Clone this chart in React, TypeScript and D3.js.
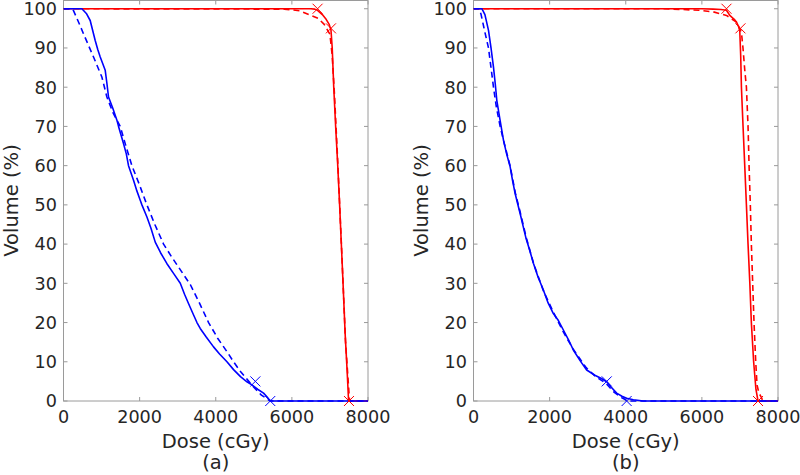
import React from "react";
import * as d3 from "d3";

// ---------- data ----------
const xTicks = [0, 2000, 4000, 6000, 8000];
const yTicks = [0, 10, 20, 30, 40, 50, 60, 70, 80, 90, 100];
const panelLabels = ["(a)", "(b)"];
const xLabel = "Dose (cGy)";
const yLabel = "Volume (%)";

// Panel (a)
const blueSolidADose = [0, 483, 600, 701, 833, 900, 965, 1096, 1140, 1183, 1300, 1403, 1446, 1580, 1650, 1708, 1840, 1930, 2016, 2060, 2192, 2300, 2410, 2550, 2718, 2900, 3068, 3180, 3287, 3400, 3506, 3592, 3750, 3942, 4100, 4294, 4468, 4650, 4820, 4950, 5100, 5256, 5350, 5432, 8000];
const blueSolidAVol = [100, 100, 98.8, 97, 91.9, 89.6, 87.7, 84.3, 81, 77.5, 74.5, 71.6, 70, 65.5, 63, 60, 56.3, 53.5, 51.2, 50, 46.9, 44, 40.5, 37.8, 35, 32.4, 30, 27.2, 24.8, 22.3, 20, 18.5, 16.3, 13.8, 12, 10, 8, 6.2, 4.9, 4.1, 3, 2.0, 1, 0, 0];
const blueDashedADose = [0, 220, 263, 400, 526, 789, 1008, 1140, 1300, 1490, 1640, 1797, 2000, 2191, 2400, 2629, 2850, 3080, 3331, 3570, 3812, 4050, 4300, 4468, 4650, 4800, 5000, 5200, 5400, 5500, 8000];
const blueDashedAVol = [100, 100, 99.5, 96.5, 93.6, 87.7, 82.6, 77.5, 73.5, 70, 65, 60, 55, 50, 45, 40, 36.6, 33.3, 29.7, 25, 20, 16, 12.5, 10, 7.5, 5.8, 3.5, 1.5, 0.2, 0, 0];
const redSolidADose = [0, 6500, 6600, 6675, 6800, 6900, 6980, 7027, 7060, 7100, 7150, 7200, 7250, 7295, 7340, 7400, 7450, 7490, 8000];
const redSolidAVol = [100, 100, 99.9, 99.6, 98.5, 97.3, 96, 94.6, 90, 80, 70, 61, 51, 41, 31, 17, 8, 0, 0];
const redDashedADose = [0, 5800, 6200, 6527, 6700, 6850, 7000, 7060, 7120, 7210, 7310, 7410, 7515, 8000];
const redDashedAVol = [100, 99.9, 99.5, 98.2, 97.5, 96, 93.5, 88, 78, 60, 38, 15, 0, 0];
const redMarkersADose = [6675, 7027, 7500];
const redMarkersAVol = [100, 95, 0];
const blueMarkersADose = [5040, 5432];
const blueMarkersAVol = [5, 0];

// Panel (b)
const blueSolidBDose = [0, 220, 300, 394, 460, 525, 570, 613, 700, 787, 870, 963, 1030, 1094, 1160, 1225, 1300, 1382, 1480, 1574, 1700, 1836, 1960, 2098, 2230, 2361, 2500, 2623, 2800, 2973, 3200, 3350, 3498, 3620, 3761, 3900, 4023, 4200, 4459, 8000];
const blueSolidBVol = [100, 100, 98.5, 94.5, 90, 85.1, 81, 76.6, 71.5, 66.5, 63, 59.7, 56, 52.9, 50.3, 47.8, 44.7, 41.4, 38.3, 35.1, 31.5, 28.3, 25, 22.3, 20.5, 18.1, 15.5, 13, 10.3, 7.9, 6.5, 5.8, 4.9, 3.5, 2, 1.2, 0.7, 0.3, 0, 0];
const blueDashedBDose = [0, 150, 200, 300, 394, 460, 525, 600, 700, 800, 960, 1100, 1230, 1390, 1580, 1840, 2100, 2360, 2620, 2960, 3200, 3480, 3700, 3900, 4050, 8000];
const blueDashedBVol = [100, 100, 98.5, 94, 90, 85, 80, 75, 70, 66, 60, 53, 48, 41.5, 35, 28, 22.6, 17.6, 13.2, 8.5, 6.3, 4.5, 2.2, 0.8, 0, 0];
const redSolidBDose = [0, 6000, 6295, 6500, 6646, 6733, 6850, 6908, 6960, 6995, 7020, 7039, 7082, 7126, 7170, 7213, 7260, 7300, 7360, 7420, 7475, 8000];
const redSolidBVol = [100, 100, 99.9, 99.8, 99.6, 98.3, 97.3, 96.6, 95.6, 94.5, 88, 80, 70, 60, 50, 40, 30, 20, 10, 3, 0, 0];
const redDashedBDose = [0, 5000, 5500, 5931, 6300, 6646, 6908, 7039, 7080, 7130, 7170, 7213, 7240, 7273, 7300, 7335, 7370, 7415, 7450, 7500, 7560, 7600, 8000];
const redDashedBVol = [100, 100, 99.8, 99.6, 99.2, 98.3, 96.6, 94, 90, 84, 80, 70, 60, 50, 40, 30, 20, 10, 4, 2, 1, 0, 0];
const redMarkersBDose = [6646, 7013, 7475];
const redMarkersBVol = [100, 95, 0];
const blueMarkersBDose = [3500, 4023];
const blueMarkersBVol = [5, 0];

// ---------- styling ----------
const BLUE = "#0000ff";
const RED = "#ff0000";
const TEXT = "#262626";
const AXIS = "#9a9a9a";
const FONT = "'DejaVu Sans', sans-serif";

type Series = { dose: number[]; vol: number[]; color: string; dashed: boolean };
type Markers = { dose: number[]; vol: number[]; color: string };

const zip = (a: number[], b: number[]) => a.map((v, i) => [v, b[i]] as [number, number]);

function Panel({ left, label, series, markers, id }: { left: number; label: string; series: Series[]; markers: Markers[]; id: string }) {
  const width = 304.5;
  const x = d3.scaleLinear().domain([0, 8000]).range([left, left + width]);
  const y = d3.scaleLinear().domain([0, 102.1]).range([401, 0.5]);
  const line = d3.line<[number, number]>().x((d) => x(d[0])).y((d) => y(d[1]));
  const tick = 4;
  const x0 = x(0), x1 = x(8000), yb = y(0), yt = y(102.1);
  return (
    <g>
      <defs>
        <clipPath id={id}>
          <rect x={x0} y={yt - 1} width={x1 - x0} height={yb - yt + 2} />
        </clipPath>
      </defs>
      <rect x={x0} y={yt} width={x1 - x0} height={yb - yt} fill="white" stroke={AXIS} strokeWidth={1} />
      {xTicks.map((t) => (
        <g key={"x" + t}>
          <line x1={x(t)} x2={x(t)} y1={yb} y2={yb - tick} stroke={AXIS} />
          <line x1={x(t)} x2={x(t)} y1={yt} y2={yt + tick} stroke={AXIS} />
          <text x={x(t)} y={423} textAnchor="middle" fontSize={17.6} fill={TEXT} fontFamily={FONT}>{d3.format("d")(t)}</text>
        </g>
      ))}
      {yTicks.map((t) => (
        <g key={"y" + t}>
          <line x1={x0} x2={x0 + tick} y1={y(t)} y2={y(t)} stroke={AXIS} />
          <line x1={x1} x2={x1 - tick} y1={y(t)} y2={y(t)} stroke={AXIS} />
          <text x={x0 - 6.5} y={y(t)} dy="0.36em" textAnchor="end" fontSize={17.6} fill={TEXT} fontFamily={FONT}>{t}</text>
        </g>
      ))}
      <g clipPath={`url(#${id})`}>
        {series.map((s, i) => (
          <path key={i} d={line(zip(s.dose, s.vol)) || ""} fill="none" stroke={s.color} strokeWidth={1.6}
            strokeDasharray={s.dashed ? "6,4" : undefined} strokeLinejoin="round" />
        ))}
      </g>
      {markers.map((m, i) =>
        m.dose.map((d, j) => {
          const cx = x(d), cy = y(m.vol[j]), r = 5;
          return (
            <path key={i + "-" + j} d={`M${cx - r},${cy - r}L${cx + r},${cy + r}M${cx - r},${cy + r}L${cx + r},${cy - r}`}
              stroke={m.color} strokeWidth={1} fill="none" />
          );
        })
      )}
      <text x={(x0 + x1) / 2} y={448} textAnchor="middle" fontSize={19.5} fill={TEXT} fontFamily={FONT}>{xLabel}</text>
      <text x={(x0 + x1) / 2} y={469} textAnchor="middle" fontSize={19.5} fill={TEXT} fontFamily={FONT}>{label}</text>
      <text transform={`translate(${left - 46},200.5) rotate(-90)`} textAnchor="middle" fontSize={19.5} fill={TEXT} fontFamily={FONT}>{yLabel}</text>
    </g>
  );
}

export default function App() {
  const seriesA: Series[] = [
    { dose: redSolidADose, vol: redSolidAVol, color: RED, dashed: false },
    { dose: redDashedADose, vol: redDashedAVol, color: RED, dashed: true },
    { dose: blueSolidADose, vol: blueSolidAVol, color: BLUE, dashed: false },
    { dose: blueDashedADose, vol: blueDashedAVol, color: BLUE, dashed: true },
  ];
  const seriesB: Series[] = [
    { dose: redSolidBDose, vol: redSolidBVol, color: RED, dashed: false },
    { dose: redDashedBDose, vol: redDashedBVol, color: RED, dashed: true },
    { dose: blueSolidBDose, vol: blueSolidBVol, color: BLUE, dashed: false },
    { dose: blueDashedBDose, vol: blueDashedBVol, color: BLUE, dashed: true },
  ];
  const markersA: Markers[] = [
    { dose: redMarkersADose, vol: redMarkersAVol, color: RED },
    { dose: blueMarkersADose, vol: blueMarkersAVol, color: BLUE },
  ];
  const markersB: Markers[] = [
    { dose: redMarkersBDose, vol: redMarkersBVol, color: RED },
    { dose: blueMarkersBDose, vol: blueMarkersBVol, color: BLUE },
  ];
  return (
    <div style={{ position: "absolute", left: 0, top: 0 }}>
      <svg width={800} height={475} style={{ display: "block", background: "white" }}>
        <Panel id="clipA" left={63.5} label={panelLabels[0]} series={seriesA} markers={markersA} />
        <Panel id="clipB" left={473.5} label={panelLabels[1]} series={seriesB} markers={markersB} />
      </svg>
    </div>
  );
}
